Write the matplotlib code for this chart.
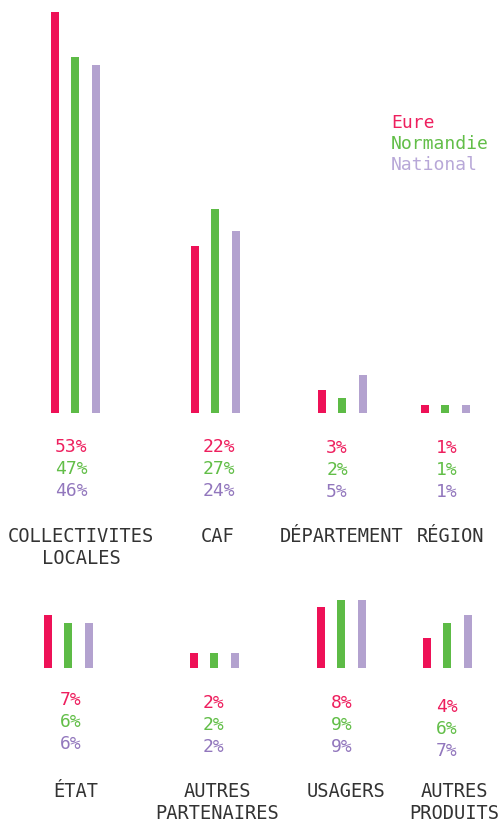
import numpy as np
import matplotlib.pyplot as plt

# funding shares (%) by source
top_cats = ["COLLECTIVITES\nLOCALES", "CAF", "DÉPARTEMENT", "RÉGION"]
bottom_cats = ["ÉTAT", "AUTRES\nPARTENAIRES", "USAGERS", "AUTRES\nPRODUITS"]
series = ["Eure", "Normandie", "National"]
eure = [53, 22, 3, 1, 7, 2, 8, 4]
normandie = [47, 27, 2, 1, 6, 2, 9, 6]
national = [46, 24, 5, 1, 6, 2, 9, 7]

bar_colors = ["#ee1157", "#5dbb46", "#b3a2cf"]
text_colors = ["#ee1f5e", "#62be48", "#9277bd"]
label_color = "#333333"
W, H = 500, 819
PX_PER_UNIT = 7.57

fig = plt.figure(figsize=(W / 100, H / 100), dpi=100)
plt.rcParams['font.family'] = ['DejaVu Sans Mono']


def fx(x):
    return x / W


def fy(y):
    return 1 - y / H


def row_axes(baseline, top_val):
    height = top_val * PX_PER_UNIT
    ax = fig.add_axes([0, fy(baseline), 1, height / H])
    ax.set_xlim(0, W)
    ax.set_ylim(0, top_val)
    ax.axis('off')
    return ax


# layout: group centres, bar offsets, baselines (pixels)
top_centres = [75, 215, 341.5, 444.5]
bot_centres = [68, 214, 341, 447]
offsets = [-20, 0, 21]
values = [eure, normandie, national]

ax_top = row_axes(413, 54)
ax_bot = row_axes(668, 10)

for row, (ax, centres) in enumerate([(ax_top, top_centres), (ax_bot, bot_centres)]):
    for s in range(3):
        vals = values[s][row * 4:(row + 1) * 4]
        xs = np.array(centres) + offsets[s]
        ax.bar(xs, vals, width=8, color=bar_colors[s], linewidth=0)

# percentage labels
top_pct_x = [71, 219, 337, 447]
bot_pct_x = [71, 214, 342, 447]
top_pct_base = [452, 452, 453, 453]
bot_pct_base = [705, 708, 708, 712]
for i in range(8):
    if i < 4:
        x, b = top_pct_x[i], top_pct_base[i]
    else:
        x, b = bot_pct_x[i - 4], bot_pct_base[i - 4]
    for s in range(3):
        fig.text(fx(x), fy(b + 22 * s), f"{values[s][i]}%", color=text_colors[s],
                 fontsize=13, ha='center', va='baseline')

# category labels (baseline refers to last line for multi-line text)
top_lab_x = [81, 218, 342, 450]
bot_lab_x = [76, 217, 346, 454]
for cats, xs, base in [(top_cats, top_lab_x, 542), (bottom_cats, bot_lab_x, 797)]:
    for c, x in zip(cats, xs):
        nlines = c.count("\n")
        fig.text(fx(x), fy(base + 22 * nlines), c, color=label_color, fontsize=13.5,
                 ha='center', va='baseline', linespacing=1.17)

# legend
legend_colors = ["#ee1f5e", "#62be48", "#b8a8d8"]
for s, name in enumerate(series):
    fig.text(fx(391), fy(128 + 21 * s), name, color=legend_colors[s],
             fontsize=13, ha='left', va='baseline')

fig.savefig("out.png", dpi=100, facecolor="white")
